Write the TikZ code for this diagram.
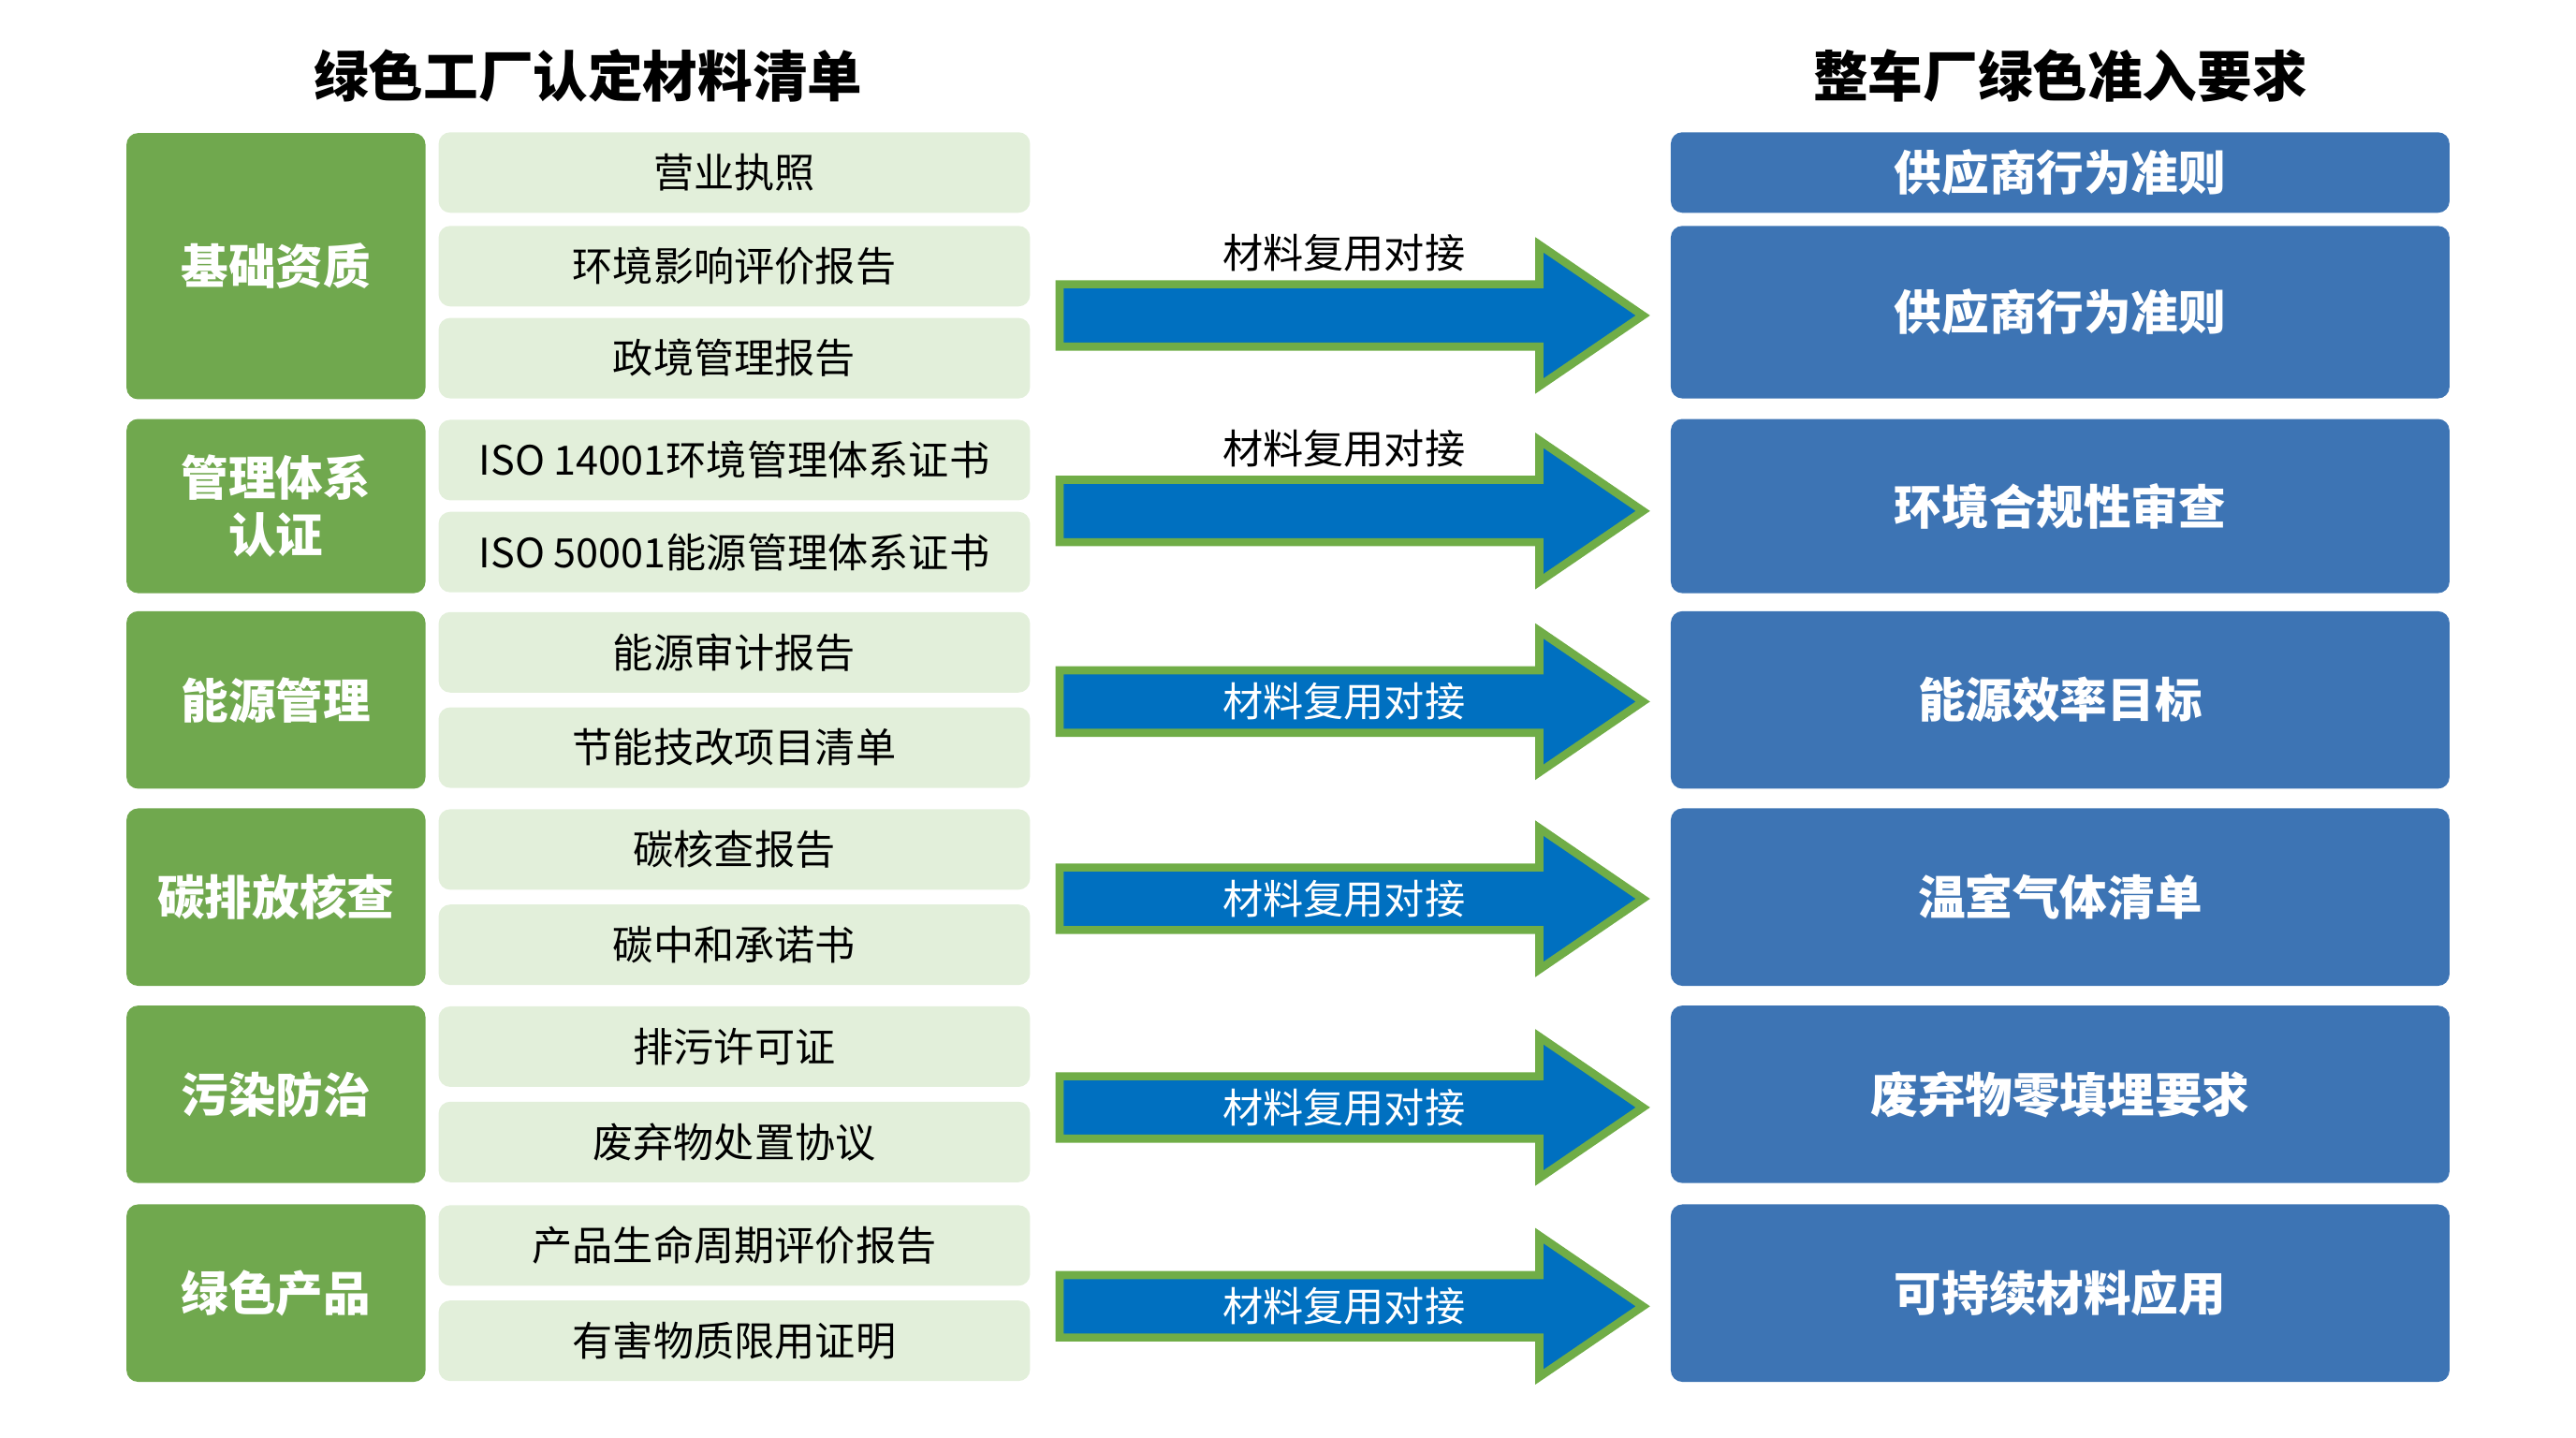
\documentclass[tikz,border=0pt]{standalone}
\usepackage{fontspec}
\setmainfont{Noto Sans CJK SC}
\usetikzlibrary{positioning}
\definecolor{catgreen}{HTML}{70A84E}
\definecolor{itemgreen}{HTML}{E2EFDA}
\definecolor{reqblue}{HTML}{3D74B4}
\definecolor{arrblue}{HTML}{0070C0}
\definecolor{arredge}{HTML}{70AD47}
\tikzset{cat/.style={fill=catgreen, rounded corners=2pt, text=white, font=\bfseries\fontsize{8.2}{10}\selectfont, minimum width=18.2mm, align=center, inner sep=0pt}}
\tikzset{item/.style={fill=itemgreen, rounded corners=2pt, font=\fontsize{7}{8}\selectfont, minimum width=36mm, minimum height=4.9mm, inner sep=0pt}}
\tikzset{req/.style={fill=reqblue, rounded corners=2pt, text=white, font=\bfseries\fontsize{8.2}{10}\selectfont, minimum width=47.4mm, inner sep=0pt}}
\tikzset{ttl/.style={font=\bfseries\fontsize{9.5}{11}\selectfont}}
\tikzset{lbl/.style={font=\fontsize{7}{8}\selectfont}}
\begin{document}
\begin{tikzpicture}[x=0.1mm, y=-0.1mm]
\useasboundingbox (0,0) rectangle (1568,875);

\node[ttl] (tl) at (358,46) {绿色工厂认定材料清单};
\node[ttl] (tr) at (1254,46) {整车厂绿色准入要求};

% categories
\node[cat, minimum height=16.2mm] (c1) at (168,162) {基础资质};
\node[cat, minimum height=10.6mm] (c2) at (168,308) {管理体系\\认证};
\node[cat, minimum height=10.8mm] (c3) at (168,426) {能源管理};
\node[cat, minimum height=10.8mm] (c4) at (168,546) {碳排放核查};
\node[cat, minimum height=10.8mm] (c5) at (168,666) {污染防治};
\node[cat, minimum height=10.8mm] (c6) at (168,787) {绿色产品};

% items
\node[item] (i1) at (447,105) {营业执照};
\node[item] (i2) at (447,162) {环境影响评价报告};
\node[item] (i3) at (447,218) {政境管理报告};
\node[item] (i4) at (447,280) {ISO 14001环境管理体系证书};
\node[item] (i5) at (447,336) {ISO 50001能源管理体系证书};
\node[item] (i6) at (447,397) {能源审计报告};
\node[item] (i7) at (447,455) {节能技改项目清单};
\node[item] (i8) at (447,517) {碳核查报告};
\node[item] (i9) at (447,575) {碳中和承诺书};
\node[item] (i10) at (447,637) {排污许可证};
\node[item] (i11) at (447,695) {废弃物处置协议};
\node[item] (i12) at (447,758) {产品生命周期评价报告};
\node[item] (i13) at (447,816) {有害物质限用证明};

% requirements
\node[req, minimum height=4.9mm] (r0) at (1254,105) {供应商行为准则};
\node[req, minimum height=10.5mm] (r1) at (1254,190) {供应商行为准则};
\node[req, minimum height=10.6mm] (r2) at (1254,308) {环境合规性审查};
\node[req, minimum height=10.8mm] (r3) at (1254,426) {能源效率目标};
\node[req, minimum height=10.8mm] (r4) at (1254,546) {温室气体清单};
\node[req, minimum height=10.8mm] (r5) at (1254,666) {废弃物零填埋要求};
\node[req, minimum height=10.8mm] (r6) at (1254,787) {可持续材料应用};

% arrows
\foreach \n/\y in {1/192,2/311,3/427,4/547,5/674,6/795}{
  \draw[arredge, line width=1.4pt, fill=arrblue, line join=miter]
    (645,\y-19) -- (937,\y-19) -- (937,\y-43) -- (1000,\y) -- (937,\y+43)
    -- (937,\y+19) -- (645,\y+19) -- cycle;
  \coordinate (a\n) at (818,\y);
}
\node[lbl] (l1) at (818,154) {材料复用对接};
\node[lbl] (l2) at (818,273) {材料复用对接};
\foreach \n in {3,4,5,6}
  \node[lbl, text=white] (l\n) at (a\n) {材料复用对接};
\end{tikzpicture}
\end{document}
